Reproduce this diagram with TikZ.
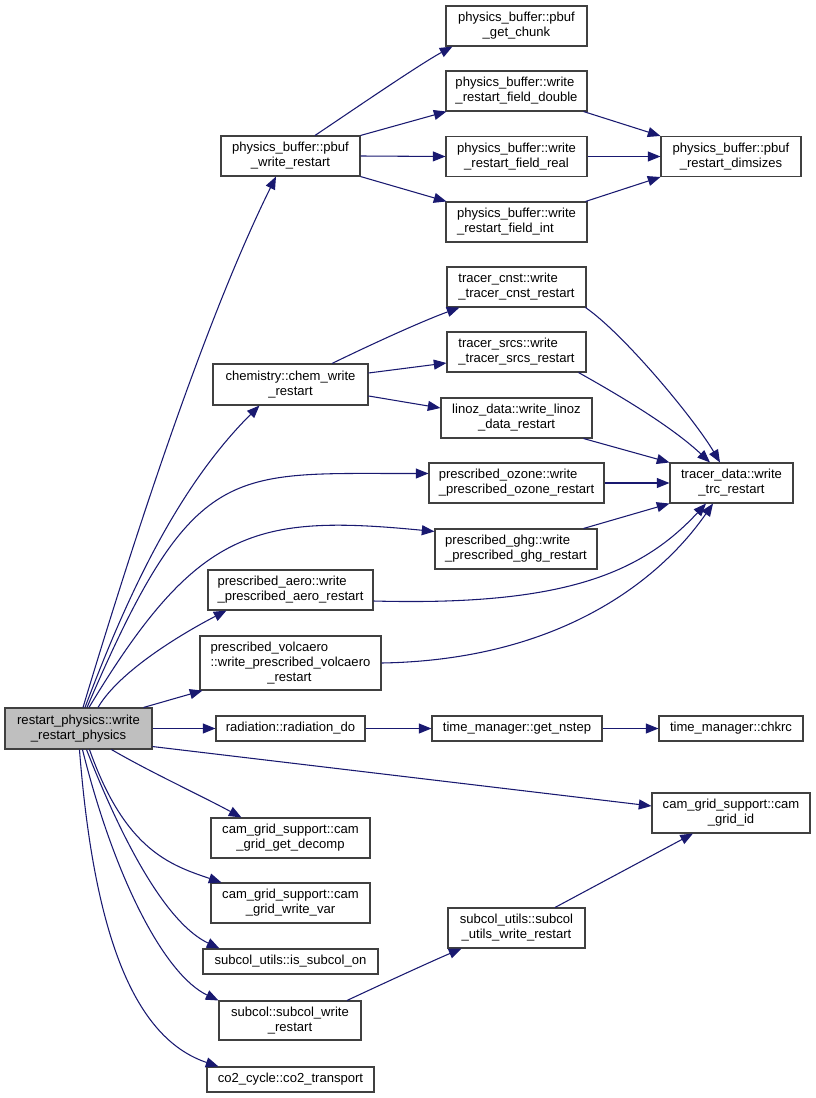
\documentclass[tikz,border=0pt]{standalone}
\usepackage{fontspec}
\setmainfont{Liberation Sans}
\usetikzlibrary{arrows.meta,calc}
\definecolor{edgec}{HTML}{191970}
\definecolor{boxc}{HTML}{404040}
\definecolor{rootc}{HTML}{BFBFBF}
\begin{document}
\begin{tikzpicture}[x=0.75pt,y=-0.75pt,
  box/.style={draw=boxc, line width=0.8pt, fill=white, inner sep=0pt, align=center, text=black, font=\fontsize{9.8}{11.25}\selectfont},
  lbox/.style={box, align=left},
  sz/.style 2 args={minimum width=#1*0.75pt, minimum height=#2*0.75pt},
  conn/.style={draw=edgec, line width=0.8pt, -{Triangle[length=9.5pt,width=7.5pt]}}]
\useasboundingbox (0,0) rectangle (816,1098);

% nodes
\node[box,sz={147}{41},fill=rootc] (root) at (78.5,728.5) {restart\_physics::write\\\_restart\_physics};
\node[box,sz={139}{40}] (pbuf) at (290.5,156) {physics\_buffer::pbuf\\\_write\_restart};
\node[box,sz={141}{40}] (getchunk) at (516.5,26) {physics\_buffer::pbuf\\\_get\_chunk};
\node[lbox,sz={141}{40}] (double) at (516.5,91) {physics\_buffer::write\\\_restart\_field\_double};
\node[box,sz={141}{40}] (real) at (516.5,156.5) {physics\_buffer::write\\\_restart\_field\_real};
\node[lbox,sz={141}{40}] (int) at (516.5,222) {physics\_buffer::write\\\_restart\_field\_int};
\node[box,sz={140}{40}] (dims) at (731,156.5) {physics\_buffer::pbuf\\\_restart\_dimsizes};
\node[lbox,sz={139}{40}] (cnst) at (516.5,287) {tracer\_cnst::write\\\_tracer\_cnst\_restart};
\node[lbox,sz={139}{40}] (srcs) at (516.5,352) {tracer\_srcs::write\\\_tracer\_srcs\_restart};
\node[box,sz={151}{40}] (linoz) at (516.5,418) {linoz\_data::write\_linoz\\\_data\_restart};
\node[box,sz={155}{41}] (chem) at (290.5,384.5) {chemistry::chem\_write\\\_restart};
\node[lbox,sz={175}{40}] (ozone) at (516.5,483) {prescribed\_ozone::write\\\_prescribed\_ozone\_restart};
\node[box,sz={123}{40}] (trc) at (731.5,483) {tracer\_data::write\\\_trc\_restart};
\node[lbox,sz={162}{40}] (ghg) at (516,549) {prescribed\_ghg::write\\\_prescribed\_ghg\_restart};
\node[lbox,sz={165}{40}] (aero) at (290.5,590) {prescribed\_aero::write\\\_prescribed\_aero\_restart};
\node[lbox,sz={181}{54}] (volc) at (290.5,663) {prescribed\_volcaero\\::write\_prescribed\_volcaero\\\hspace*{42.5pt}\_restart};
\node[box,sz={149}{25}] (rad) at (290.5,728.5) {radiation::radiation\_do};
\node[box,sz={170}{25}] (nstep) at (517,728.5) {time\_manager::get\_nstep};
\node[box,sz={144}{25}] (chkrc) at (731,728.5) {time\_manager::chkrc};
\node[box,sz={158}{40}] (gridid) at (731,813) {cam\_grid\_support::cam\\\_grid\_id};
\node[box,sz={159}{40}] (decomp) at (290.5,838) {cam\_grid\_support::cam\\\_grid\_get\_decomp};
\node[box,sz={159}{40}] (writevar) at (290.5,903) {cam\_grid\_support::cam\\\_grid\_write\_var};
\node[box,sz={137}{40}] (subutils) at (516.5,928) {subcol\_utils::subcol\\\_utils\_write\_restart};
\node[box,sz={175}{25}] (issubcol) at (290.5,961.5) {subcol\_utils::is\_subcol\_on};
\node[box,sz={142}{39}] (subwrite) at (290,1020.5) {subcol::subcol\_write\\\_restart};
\node[box,sz={167}{25}] (co2) at (290.5,1079.5) {co2\_cycle::co2\_transport};

% connectors from root, upward
\draw[conn] ($(root.north)+(4.5,0)$) .. controls (128,558) and (202,326) .. ($(pbuf.south)+(-14.5,0)$);
\draw[conn] ($(root.north)+(6.5,0)$) .. controls (130,588) and (180,485) .. ($(chem.south west)+(47,0)$);
\draw[conn] ($(root.north)+(8.5,0)$) .. controls (194,458) and (229,474) .. ($(ozone.north west)+(0,11)$);
\draw[conn] ($(root.north)+(10.5,0)$) .. controls (197,528) and (255,514) .. ($(ghg.north west)+(0,3)$);
\draw[conn] ($(root.north)+(19.5,0)$) .. controls (120,670) and (185,632) .. ($(aero.south west)+(19,0)$);
\draw[conn] ($(root.north east)+(-9,0)$) -- ($(volc.south west)+(3,0)$);
\draw[conn] (root.east) -- (rad.west);
\draw[conn] ($(root.south east)+(0,-3)$) -- ($(gridid.west)+(0,-7)$);
% connectors from root, downward
\draw[conn] ($(root.south west)+(107,0)$) .. controls (150,772) and (200,795) .. ($(decomp.north west)+(31,0)$);
\draw[conn] ($(root.south west)+(85,0)$) .. controls (125,850) and (170,865) .. ($(writevar.north west)+(11,0)$);
\draw[conn] ($(root.south west)+(82,0)$) .. controls (128,855) and (170,925) .. ($(issubcol.north west)+(17,0)$);
\draw[conn] ($(root.south west)+(78,0)$) .. controls (115,880) and (165,975) .. (subwrite.north west);
\draw[conn] ($(root.south west)+(75,0)$) .. controls (95,950) and (140,1040) .. ($(co2.north west)+(12,0)$);

% physics buffer
\draw[conn] ($(pbuf.north)+(24.5,0)$) .. controls (350,112) and (420,64) .. ($(getchunk.south west)+(7,0)$);
\draw[conn] (pbuf.north east) -- ($(double.south west)+(1,0)$);
\draw[conn] (pbuf.east) -- (real.west);
\draw[conn] (pbuf.south east) -- ($(int.north west)+(1,0)$);
\draw[conn] ($(double.south east)+(-4,0)$) -- (dims.north west);
\draw[conn] (real.east) -- (dims.west);
\draw[conn] ($(int.north east)+(-2,0)$) -- (dims.south west);

% chemistry
\draw[conn] ($(chem.north)+(41.5,0)$) .. controls (370,345) and (420,322) .. ($(cnst.south west)+(13,0)$);
\draw[conn] ($(chem.east)+(0,-11.5)$) -- ($(srcs.west)+(0,11)$);
\draw[conn] ($(chem.east)+(0,11.5)$) -- ($(linoz.west)+(0,-10)$);

% tracer data
\draw[conn] ($(cnst.south east)+(-1,0)$) .. controls (625,335) and (695,420) .. ($(trc.north)+(-11.5,0)$);
\draw[conn] ($(srcs.south east)+(-8,0)$) .. controls (615,393) and (670,425) .. ($(trc.north)+(-21.5,0)$);
\draw[conn] ($(linoz.south east)+(-9,0)$) -- (trc.north west);
\draw[conn] (ozone.east) -- (trc.west);
\draw[conn] ($(ghg.north east)+(-14,0)$) -- (trc.south west);
\draw[conn] ($(aero.east)+(0,11)$) .. controls (560,606) and (640,575) .. ($(trc.south)+(-25.5,0)$);
\draw[conn] (volc.east) .. controls (560,660) and (660,580) .. ($(trc.south)+(-18.5,0)$);

% time manager
\draw[conn] (rad.east) -- (nstep.west);
\draw[conn] (nstep.east) -- (chkrc.west);

% subcol
\draw[conn] ($(subwrite.north)+(57,0)$) .. controls (380,985) and (430,962) .. ($(subutils.south west)+(14,0)$);
\draw[conn] ($(subutils.north)+(38.5,0)$) -- ($(gridid.south)+(-38,0)$);
\end{tikzpicture}
\end{document}
